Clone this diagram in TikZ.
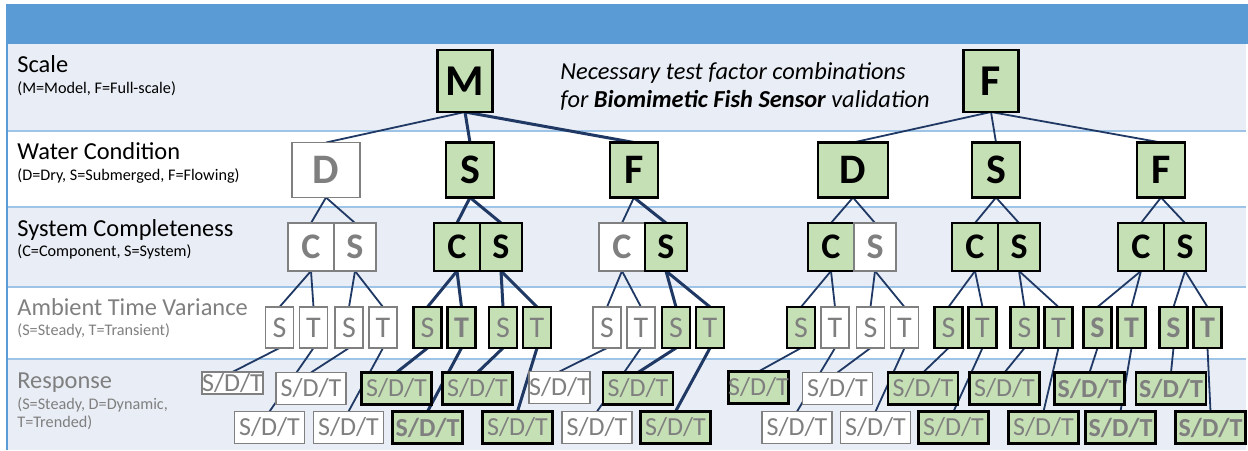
\documentclass[tikz,border=0pt]{standalone}
\usepackage{fontspec}
\setmainfont{Carlito}
\usepackage{tikz}
\usetikzlibrary{positioning,backgrounds}

\definecolor{headblue}{RGB}{91,155,213}
\definecolor{rowfill}{RGB}{233,237,245}
\definecolor{rowline}{RGB}{157,195,230}
\definecolor{reqgreen}{RGB}{197,224,180}
\definecolor{linkblue}{RGB}{31,56,100}
\definecolor{boxgray}{RGB}{128,128,128}
\definecolor{txtgray}{RGB}{127,127,127}

\pgfdeclarelayer{links}
\pgfsetlayers{background,links,main}

\tikzset{
	level/.style={anchor=base west,inner sep=0pt,font=\fontsize{12.2}{12}\selectfont},
	key/.style={anchor=base west,inner sep=0pt,font=\fontsize{8.1}{9.2}\selectfont},
	box/.style={draw=boxgray,line width=0.7pt,fill=white,text=txtgray,inner sep=0pt,outer sep=0pt},
	req/.style={fill=reqgreen,draw=black,line width=1.4pt},
	reqtop/.style={req,text=black},
	scalebox/.style={box,minimum width=27.5pt,minimum height=31pt,font=\fontsize{22}{22}\selectfont\bfseries},
	waterbox/.style={box,minimum width=24pt,minimum height=27.5pt,font=\fontsize{21}{21}\selectfont\bfseries},
	compbox/.style={box,minimum width=23pt,minimum height=24pt,font=\fontsize{18}{18}\selectfont\bfseries},
	narrow/.style={minimum width=21pt},
	timebox/.style={box,minimum width=14pt,minimum height=20.5pt,font=\fontsize{15}{15}\selectfont},
	respbox/.style={box,minimum width=35pt,minimum height=16pt,font=\fontsize{13}{13}\selectfont},
	tight/.style={minimum width=0pt},
	link/.style={draw=linkblue,line width=0.9pt},
	thicklink/.style={draw=linkblue,line width=1.5pt}
}

\begin{document}
\begin{tikzpicture}[x=0.5pt,y=-0.5pt]
		\useasboundingbox (0,0) rectangle (1248,450);
		% rows
		\begin{scope}[on background layer]
			\fill[headblue] (7,4) rectangle (1248,44);
			\fill[rowfill] (7,44) rectangle (1246,131);
			\fill[rowfill] (7,207) rectangle (1246,287);
			\fill[rowfill] (7,359) rectangle (1246,450);
			\draw[rowline,line width=0.7pt] (7,131) -- (1246,131) (7,207) -- (1246,207)
				(7,287) -- (1246,287) (7,359) -- (1246,359);
			\draw[headblue,line width=0.8pt] (7,4) -- (7,450);
		\end{scope}

		% row labels
		\node(lscale) [level] at (17,72) {Scale};
		\node(kscale) [key] at (17,93) {(M=Model, F=Full-scale)};
		\node(lwater) [level] at (17,159) {Water Condition};
		\node(kwater) [key] at (17,180) {(D=Dry, S=Submerged, F=Flowing)};
		\node(lcomp) [level] at (17,236) {System Completeness};
		\node(kcomp) [key] at (17,256) {(C=Component, S=System)};
		\node(ltime) [level,text=txtgray] at (17,315) {Ambient Time Variance};
		\node(ktime) [key,text=txtgray] at (17,335) {(S=Steady, T=Transient)};
		\node(lresp) [level,text=txtgray] at (17,388) {Response};
		\node(kresp) [key,text=txtgray,align=left,anchor=north west] at (17,397) {(S=Steady, D=Dynamic,\\T=Trended)};

		\node(title) [anchor=west,align=left,inner sep=0pt,font=\fontsize{12.2}{14}\selectfont\itshape] at (560,86)
			{Necessary test factor combinations\\for \textbf{Biomimetic Fish Sensor} validation};

		% scale
		\node(M) [scalebox,reqtop] at (465,81) {M};
		\node(F) [scalebox,reqtop] at (991,81) {F};

		% water condition
		\node(mD) [waterbox,minimum width=34pt] at (326,170) {D};
		\node(mS) [waterbox,reqtop] at (470,170) {S};
		\node(mF) [waterbox,reqtop] at (634,170) {F};
		\node(fD) [waterbox,reqtop,minimum width=35pt] at (853,170) {D};
		\node(fS) [waterbox,reqtop] at (996,170) {S};
		\node(fF) [waterbox,reqtop] at (1161,170) {F};

		% system completeness
		\node(mDC) [compbox] at (311,247) {C};
		\node(mDS) [compbox,narrow,right=0pt of mDC] {S};
		\node(mSC) [compbox,reqtop] at (457,247) {C};
		\node(mSS) [compbox,narrow,reqtop,right=0pt of mSC] {S};
		\node(mFC) [compbox] at (622,247) {C};
		\node(mFS) [compbox,narrow,reqtop,right=0pt of mFC] {S};
		\node(fDC) [compbox,reqtop] at (831,247) {C};
		\node(fDS) [compbox,narrow,right=0pt of fDC] {S};
		\node(fSC) [compbox,reqtop] at (975,247) {C};
		\node(fSS) [compbox,narrow,reqtop,right=0pt of fSC] {S};
		\node(fFC) [compbox,reqtop] at (1141,247) {C};
		\node(fFS) [compbox,narrow,reqtop,right=0pt of fFC] {S};

		% ambient time variance
		\node(mDCS) [timebox] at (279.5,327.5) {S};
		\node(mDCT) [timebox,right=3pt of mDCS] {T};
		\node(mDSS) [timebox] at (349,327.5) {S};
		\node(mDST) [timebox,right=3pt of mDSS] {T};
		\node(mSCS) [timebox,req] at (427.5,327.5) {S};
		\node(mSCT) [timebox,req,right=3pt of mSCS] {\textbf{T}};
		\node(mSSS) [timebox,req] at (503,327.5) {S};
		\node(mSST) [timebox,req,right=3pt of mSSS] {T};
		\node(mFCS) [timebox] at (607,327.5) {S};
		\node(mFCT) [timebox,right=3pt of mFCS] {T};
		\node(mFSS) [timebox,req] at (676,327.5) {S};
		\node(mFST) [timebox,req,right=3pt of mFSS] {T};
		\node(fDCS) [timebox,req] at (801,327.5) {S};
		\node(fDCT) [timebox,right=3pt of fDCS] {T};
		\node(fDSS) [timebox] at (870.5,327.5) {S};
		\node(fDST) [timebox,right=3pt of fDSS] {T};
		\node(fSCS) [timebox,req] at (948.5,327.5) {S};
		\node(fSCT) [timebox,req,right=3pt of fSCS] {T};
		\node(fSSS) [timebox,req] at (1024.5,327.5) {S};
		\node(fSST) [timebox,req,right=3pt of fSSS] {T};
		\node(fFCS) [timebox,req] at (1097.5,327.5) {\textbf{S}};
		\node(fFCT) [timebox,req,right=3pt of fFCS] {\textbf{T}};
		\node(fFSS) [timebox,req] at (1173.5,327.5) {\textbf{S}};
		\node(fFST) [timebox,req,right=3pt of fFSS] {\textbf{T}};

		% response
		\node(rmDCS) [respbox,tight,minimum height=11pt] at (232.5,383) {S/D/T};
		\node(rmDCT) [respbox] at (269.5,427.5) {S/D/T};
		\node(rmDSS) [respbox] at (311,388.5) {S/D/T};
		\node(rmDST) [respbox] at (348.5,427.5) {S/D/T};
		\node(rmSCS) [respbox,req] at (396.5,388.5) {S/D/T};
		\node(rmSCT) [respbox,req] at (427.5,427.5) {\textbf{S/D/T}};
		\node(rmSSS) [respbox,req] at (477.5,388.5) {S/D/T};
		\node(rmSST) [respbox,req] at (517.5,427.5) {S/D/T};
		\node(rmFCS) [respbox,tight] at (559.5,387.5) {S/D/T};
		\node(rmFCT) [respbox] at (597,427.5) {S/D/T};
		\node(rmFSS) [respbox,req] at (638,388.5) {S/D/T};
		\node(rmFST) [respbox,req] at (675.5,427.5) {S/D/T};
		\node(rfDCS) [respbox,req,tight] at (758.5,387.5) {S/D/T};
		\node(rfDCT) [respbox] at (797,427.5) {S/D/T};
		\node(rfDSS) [respbox] at (837.5,388.5) {S/D/T};
		\node(rfDST) [respbox] at (875.5,427.5) {S/D/T};
		\node(rfSCS) [respbox,req] at (923,388.5) {S/D/T};
		\node(rfSCT) [respbox,req] at (953.5,427.5) {S/D/T};
		\node(rfSSS) [respbox,req] at (1004.5,388.5) {S/D/T};
		\node(rfSST) [respbox,req] at (1043.5,427.5) {S/D/T};
		\node(rfFCS) [respbox,req] at (1089.5,388.5) {\textbf{S/D/T}};
		\node(rfFCT) [respbox,req] at (1120.5,427.5) {\textbf{S/D/T}};
		\node(rfFSS) [respbox,req] at (1171,388.5) {\textbf{S/D/T}};
		\node(rfFST) [respbox,req] at (1210.5,427.5) {\textbf{S/D/T}};

		% links
		\begin{pgfonlayer}{links}
			\path[link]
				(M.south) edge (mD.north)
				(F.south) edge (fD.north)
				(F.south) edge (fS.north)
				(F.south) edge (fF.north)
				(mD.south) edge (mDC.north)
				(mD.south) edge (mDS.north)
				(mF.south) edge (mFC.north)
				(fD.south) edge (fDC.north)
				(fD.south) edge (fDS.north)
				(fS.south) edge (fSC.north)
				(fS.south) edge (fSS.north)
				(fF.south) edge (fFC.north)
				(fF.south) edge (fFS.north);
			\path[thicklink]
				(M.south) edge (mS.north)
				(M.south) edge (mF.north)
				(mS.south) edge (mSC.north)
				(mS.south) edge (mSS.north)
				(mF.south) edge (mFS.north);
			\path[link]
				(mDC.south) edge (mDCS.north) (mDC.south) edge (mDCT.north)
				(mDS.south) edge (mDSS.north) (mDS.south) edge (mDST.north)
				(mFC.south) edge (mFCS.north) (mFC.south) edge (mFCT.north)
				(fDC.south) edge (fDCS.north) (fDC.south) edge (fDCT.north)
				(fDS.south) edge (fDSS.north) (fDS.south) edge (fDST.north)
				(fSC.south) edge (fSCS.north) (fSC.south) edge (fSCT.north)
				(fSS.south) edge (fSSS.north) (fSS.south) edge (fSST.north)
				(fFC.south) edge (fFCS.north) (fFC.south) edge (fFCT.north)
				(fFS.south) edge (fFSS.north) (fFS.south) edge (fFST.north);
			\path[thicklink]
				(mSC.south) edge (mSCS.north) (mSC.south) edge (mSCT.north)
				(mSS.south) edge (mSSS.north) (mSS.south) edge (mSST.north)
				(mFS.south) edge (mFSS.north) (mFS.south) edge (mFST.north);
			\path[link]
				(mDCS.south) edge (rmDCS.north) (mDCT.south) edge (rmDCT.north)
				(mDSS.south) edge (rmDSS.north) (mDST.south) edge (rmDST.north)
				(mFCS.south) edge (rmFCS.north) (mFCT.south) edge (rmFCT.north)
				(fDCS.south) edge (rfDCS.north) (fDCT.south) edge (rfDCT.north)
				(fDSS.south) edge (rfDSS.north) (fDST.south) edge (rfDST.north)
				(fSCS.south) edge (rfSCS.north) (fSCT.south) edge (rfSCT.north)
				(fSSS.south) edge (rfSSS.north) (fSST.south) edge (rfSST.north)
				(fFCS.south) edge (rfFCS.north) (fFCT.south) edge (rfFCT.north)
				(fFSS.south) edge (rfFSS.north) (fFST.south) edge (rfFST.north);
			\path[thicklink]
				(mSCS.south) edge (rmSCS.north) (mSCT.south) edge (rmSCT.north)
				(mSSS.south) edge (rmSSS.north) (mSST.south) edge (rmSST.north)
				(mFSS.south) edge (rmFSS.north) (mFST.south) edge (rmFST.north);
		\end{pgfonlayer}
	\end{tikzpicture}
\end{document}
